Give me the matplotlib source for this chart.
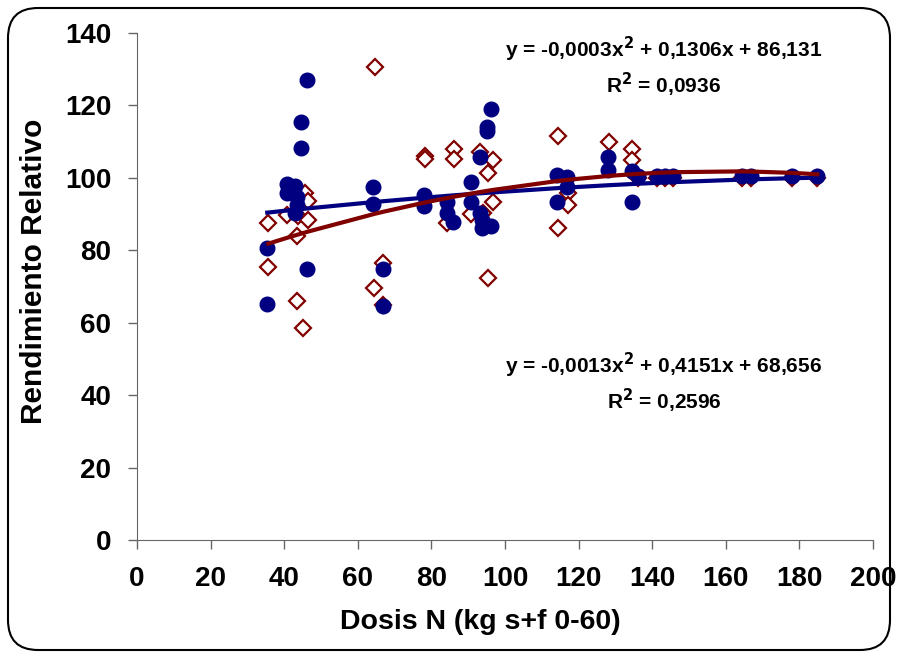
import numpy as np
import matplotlib
matplotlib.use("Agg")
from matplotlib import pyplot as plt
from matplotlib.patches import FancyBboxPatch
from matplotlib.transforms import IdentityTransform

plt.rcParams['font.family'] = ['Liberation Sans', 'DejaVu Sans']
plt.rcParams['font.weight'] = 'bold'

# serie 1 (circulos azules)
b_x = [35.4, 35.4, 40.7, 40.7, 42.9, 42.9, 43.4, 43.4, 44.7, 44.7, 46.1, 46.1,
       64.2, 64.2, 66.8, 66.8, 78.0, 78.0, 84.3, 84.3, 86.0, 90.7, 90.7,
       93.2, 93.2, 93.7, 93.7, 95.2, 95.2, 96.1, 96.1, 114.2, 114.2, 116.8, 116.8,
       128.1, 128.1, 134.4, 134.4, 136.2, 141.2, 143.5, 145.7,
       164.3, 166.8, 177.9, 184.9]
b_y = [80.6, 65.2, 98.2, 95.7, 97.6, 90.4, 94.8, 92.5, 115.5, 108.2, 127.0, 74.8,
       97.4, 92.8, 74.8, 64.7, 95.3, 92.2, 93.4, 90.2, 87.9, 98.7, 93.4,
       105.7, 90.2, 88.4, 86.1, 114.1, 112.9, 119.0, 86.7, 100.8, 93.3, 100.3, 97.4,
       105.7, 102.2, 102.0, 93.3, 100.5, 100.5, 100.5, 100.5,
       100.5, 100.5, 100.5, 100.5]

# serie 2 (rombos rojos)
r_x = [35.7, 35.7, 40.7, 43.6, 43.6, 43.8, 45.0, 45.7, 46.6, 46.6,
       64.5, 64.7, 66.9, 66.9, 78.3, 78.3, 84.2, 86.1, 86.1, 90.7,
       93.2, 94.1, 95.5, 95.5, 96.7, 96.7, 114.5, 114.5, 117.2, 117.2,
       128.3, 134.6, 134.6, 136.2, 141.2, 143.5, 145.7, 164.3, 166.8, 177.9, 184.9]
r_y = [87.5, 75.5, 89.8, 83.8, 66.1, 89.5, 58.5, 95.7, 93.7, 88.4,
       69.5, 130.7, 76.4, 64.9, 106.0, 105.1, 87.5, 107.9, 105.1, 90.0,
       107.2, 90.2, 101.3, 72.4, 104.9, 93.4, 111.4, 86.1, 95.7, 92.5,
       110.0, 107.9, 104.9, 100.0, 100.0, 100.0, 100.0, 100.0, 100.0, 100.0, 100.0]

# coeficientes de las lineas de tendencia (segun etiquetas)
b_coef = [-0.0003, 0.1306, 86.131]
r_coef = [-0.0013, 0.4151, 68.656]
b_eq = "y = -0,0003x$^2$ + 0,1306x + 86,131\nR$^2$ = 0,0936"
r_eq = "y = -0,0013x$^2$ + 0,4151x + 68,656\nR$^2$ = 0,2596"

navy = '#000080'
maroon = '#800000'

fig = plt.figure(figsize=(8.98, 6.57), dpi=100)
ax = fig.add_axes([0.1526, 0.178, 0.8194, 0.772])

ax.plot(r_x, r_y, 'D', ms=8.5, mfc='white', mec=maroon, mew=1.6, ls='none', zorder=2)
ax.plot(b_x, b_y, 'o', ms=10.5, color=navy, ls='none', zorder=3)

bx = np.unique(b_x)
rx = np.unique(r_x)
ax.plot(bx, np.polyval(b_coef, bx), color=navy, lw=3, zorder=4)
ax.plot(rx, np.polyval(r_coef, rx), color=maroon, lw=3, zorder=5)

ax.set_xlim(0, 200)
ax.set_ylim(0, 140)
ax.set_xticks(range(0, 201, 20))
ax.set_yticks(range(0, 141, 20))
ax.tick_params(direction='out', length=6.5, width=1, labelsize=20, pad=12, color='#666666')
for s in ['top', 'right']:
    ax.spines[s].set_visible(False)
for s in ['left', 'bottom']:
    ax.spines[s].set_color('#666666')
ax.set_xlabel('Dosis N (kg s+f 0-60)', fontsize=20.5, fontweight='bold')
ax.set_ylabel('Rendimiento Relativo', fontsize=21.5, fontweight='bold')
ax.xaxis.set_label_coords(0.467, -0.135)
ax.yaxis.set_label_coords(-0.121, 0.529)

ax.text(0.715, 0.933, b_eq, transform=ax.transAxes, ha='center', va='center',
        fontsize=15, fontweight='bold', linespacing=1.3)
ax.text(0.716, 0.31, r_eq, transform=ax.transAxes, ha='center', va='center',
        fontsize=15, fontweight='bold', linespacing=1.3)

border = FancyBboxPatch((8, 7), 882, 642, boxstyle='round,pad=0,rounding_size=30',
                        fc='none', ec='black', lw=1.5, transform=IdentityTransform())
fig.patches.append(border)

fig.savefig('out.png', dpi=100)
